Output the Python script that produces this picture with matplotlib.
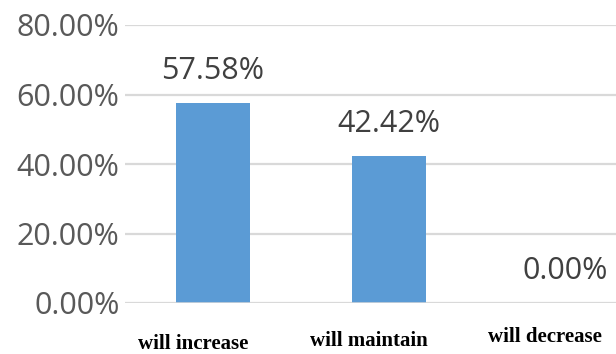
import matplotlib
matplotlib.use('Agg')
from matplotlib import pyplot as plt
from matplotlib import transforms

# data
categories = ['will increase', 'will maintain', 'will decrease']
shares = [57.58, 42.42, 0.00]
yticks = [0, 20, 40, 60, 80]

fig = plt.figure(figsize=(6.16, 3.54), dpi=100)
# axes extends past the right edge, as in the cropped original
ax = fig.add_axes([125 / 616, 51 / 354, 528 / 616, 278 / 354])

x = list(range(len(categories)))
ax.bar(x, shares, width=0.42, color='#5b9bd5', zorder=3)

ax.set_xlim(-0.5, 2.5)
ax.set_ylim(0, 80)
ax.set_yticks(yticks)
ax.set_yticklabels(['%.2f%%' % v for v in yticks], fontsize=22, color='#595959',
                   family='Open Sans')
ax.tick_params(axis='y', length=0, pad=4)
ax.set_xticks([])
ax.grid(axis='y', color='#d9d9d9', linewidth=1.6, zorder=0)
for s in ax.spines.values():
    s.set_visible(False)
ax.axhline(0, color='#d9d9d9', linewidth=1.8, zorder=4)

# value labels above the bars
for xi, v in zip(x, shares):
    ax.annotate('%.2f%%' % v, (xi, v), xytext=(0, 12), textcoords='offset points',
                ha='center', va='bottom', fontsize=22, color='#404040', family='Open Sans')

# category labels, slightly staggered like the original
trans = transforms.blended_transform_factory(ax.transData, fig.transFigure)
label_y = [10 / 354, 13 / 354, 17 / 354]
for xi, name, ly in zip(x, categories, label_y):
    ax.text(xi - 0.115, ly, name, transform=trans, ha='center', va='center',
            fontsize=15, fontweight='bold', family='Liberation Serif', color='black')

fig.savefig('out.png', dpi=100)
